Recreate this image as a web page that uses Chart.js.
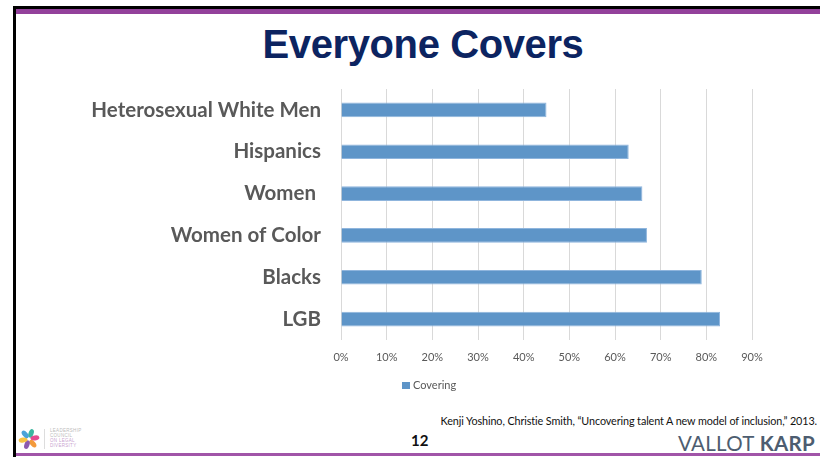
<!DOCTYPE html>
<html>
<head>
<meta charset="utf-8">
<script src="https://cdn.jsdelivr.net/npm/chart.js@4/dist/chart.umd.min.js"></script>
<style>
  html, body { margin:0; padding:0; background:#fff; width:820px; height:457px; overflow:hidden; }
  .abs { position:absolute; }
  #frameTop { left:13px; top:6px; width:807px; height:3px; background:#000; }
  #frameLeft { left:13px; top:6px; width:3px; height:451px; background:#000; }
  #purpleTop { left:16px; top:9px; width:804px; height:5px; background:#93419b; }
  #purpleBottom { left:16px; top:453px; width:804px; height:3px; background:#a155a8; }
  #title { left:13px; width:820px; top:22px; text-align:center; font-family:"Liberation Sans", Arial, sans-serif; font-weight:bold; font-size:40px; color:#0c2461; letter-spacing:-0.4px; }
  #chartBox { left:0; top:80px; width:820px; height:300px; }
  #legend { left:402px; top:377px; font-family:Lato, "Open Sans", sans-serif; font-size:11px; color:#595959; line-height:16px; white-space:nowrap; }
  #legend span.sw { display:inline-block; width:8px; height:7px; background:#5e95c8; margin-right:3px; vertical-align:0px; }
  #source { right:3px; top:414px; font-family:Lato, "Open Sans", sans-serif; font-size:10.8px; color:#111; white-space:nowrap; letter-spacing:-0.1px; }
  #page { left:411px; top:431px; font-family:Lato, "Open Sans", sans-serif; font-weight:bold; font-size:15px; color:#111; }
  #brand { right:5px; top:431px; font-family:Lato, "Liberation Sans", sans-serif; font-size:20.5px; color:#4d5d70; letter-spacing:0.3px; white-space:nowrap; }
  #brand b { font-weight:bold; }
  #logo { left:17px; top:428px; width:24px; height:22px; }
  #logoLine { left:44px; top:429px; width:1px; height:20px; background:#ddd; }
  #logoText { left:50px; top:428px; font-family:"Liberation Sans", sans-serif; font-size:4.5px; line-height:5px; color:#bbb; letter-spacing:0.3px; }
</style>
</head>
<body>
<div class="abs" id="frameTop"></div>
<div class="abs" id="purpleTop"></div>
<div class="abs" id="frameLeft"></div>
<div class="abs" id="purpleBottom"></div>
<div class="abs" id="title">Everyone Covers</div>
<div class="abs" id="chartBox"><canvas id="c"></canvas></div>
<div class="abs" id="legend"><span class="sw"></span>Covering</div>
<div class="abs" id="source">Kenji Yoshino, Christie Smith, “Uncovering talent A new model of inclusion,” 2013.</div>
<div class="abs" id="page">12</div>
<div class="abs" id="brand">VALLOT <b>KARP</b></div>
<svg class="abs" id="logo" viewBox="0 0 24 22">
  <ellipse cx="12" cy="5" rx="2.5" ry="4.5" fill="#3cb6a0" transform="rotate(20 12 11)"/>
  <ellipse cx="12" cy="5" rx="2.5" ry="4.5" fill="#e54b8f" transform="rotate(80 12 11)"/>
  <ellipse cx="12" cy="5" rx="2.5" ry="4.5" fill="#f39a3c" transform="rotate(140 12 11)"/>
  <ellipse cx="12" cy="5" rx="2.5" ry="4.5" fill="#8c5bb0" transform="rotate(200 12 11)"/>
  <ellipse cx="12" cy="5" rx="2.5" ry="4.5" fill="#f6c343" transform="rotate(260 12 11)"/>
  <ellipse cx="12" cy="5" rx="2.5" ry="4.5" fill="#4aa3d8" transform="rotate(320 12 11)"/>
</svg>
<div class="abs" id="logoLine"></div>
<div class="abs" id="logoText">LEADERSHIP<br>COUNCIL<br><span style="color:#c9a3cf">ON LEGAL</span><br><span style="color:#c9a3cf">DIVERSITY</span></div>
<script>
const categories = ["Heterosexual White Men", "Hispanics", "Women ", "Women of Color", "Blacks", "LGB"];
const covering = [45, 63, 66, 67, 79, 83];
const seriesName = "Covering";
const xTicks = [0, 10, 20, 30, 40, 50, 60, 70, 80, 90];

new Chart(document.getElementById('c'), {
  type: 'bar',
  data: {
    labels: categories,
    datasets: [{
      label: seriesName,
      data: covering,
      backgroundColor: '#5e95c8',
      borderColor: '#8fb5dd',
      borderWidth: 1,
      barPercentage: 0.35,
      categoryPercentage: 1.0
    }]
  },
  options: {
    indexAxis: 'y',
    responsive: true,
    maintainAspectRatio: false,
    animation: false,
    devicePixelRatio: 1,
    layout: { padding: { top: 9, right: 68, bottom: 0, left: 0 } },
    plugins: { legend: { display: false }, tooltip: { enabled: false } },
    scales: {
      x: {
        min: xTicks[0],
        max: xTicks[xTicks.length - 1],
        afterBuildTicks: (s) => { s.ticks = xTicks.map(v => ({ value: v })); },
        afterFit: (s) => { s.height = 40; s.paddingLeft = 0; s.paddingRight = 0; },
        grid: { color: '#d9d9d9', lineWidth: 1, drawTicks: false },
        border: { display: false },
        ticks: {
          padding: 11,
          color: '#595959',
          font: { family: 'Lato, "Open Sans", sans-serif', size: 11 },
          callback: (v) => v + '%'
        }
      },
      y: {
        afterFit: (s) => { s.width = 341; s.paddingTop = 0; s.paddingBottom = 0; },
        grid: { display: false, drawTicks: false },
        border: { display: false },
        ticks: {
          padding: 20,
          color: '#595959',
          font: { family: 'Lato, "Open Sans", sans-serif', size: 20.5, weight: 'bold' }
        }
      }
    }
  }
});
</script>
</body>
</html>
